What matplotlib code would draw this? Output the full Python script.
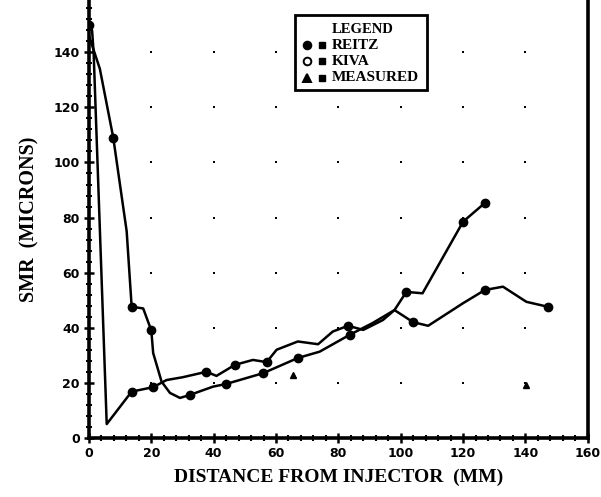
import matplotlib
matplotlib.use("Agg")
import matplotlib.pyplot as plt
from matplotlib.patches import Rectangle
from matplotlib.ticker import MultipleLocator

# REITZ: sharp drop near the injector, then the upper/lower branch out to 147 mm
reitz_x = [0.0, 1.0, 1.5, 5.7, 13.7, 20.6, 24.9, 30.0, 37.7, 40.9, 46.8, 52.6, 57.0,
           60.2, 67.0, 73.5, 78.2, 83.1, 88.0, 94.3, 98.0, 104.0, 108.8, 120.0, 127.0,
           132.8, 140.3, 147.2]
reitz_y = [150.0, 148.0, 140.0, 5.0, 16.8, 18.4, 21.0, 22.0, 24.0, 22.5, 26.5, 28.3, 27.5,
           32.0, 35.0, 34.0, 38.6, 40.7, 39.2, 42.8, 46.4, 42.0, 40.7, 48.9, 53.7,
           54.9, 49.4, 47.6]
reitz_marks = [0, 4, 5, 8, 10, 12, 17, 21, 24, 27]

# KIVA: smoother decay, dip near 30 mm, ends at 127 mm
kiva_x = [0.0, 3.5, 7.8, 12.1, 13.7, 17.4, 20.0, 20.6, 23.3, 26.0, 29.2, 32.4, 39.8,
          44.1, 55.9, 67.0, 74.0, 83.6, 91.0, 98.0, 101.8, 107.0, 120.0, 127.0]
kiva_y = [146.0, 134.0, 109.0, 75.0, 47.6, 47.0, 39.0, 30.8, 20.4, 16.3, 14.5, 15.6, 18.6,
          19.6, 23.5, 29.0, 31.3, 37.4, 41.7, 46.4, 53.0, 52.5, 78.5, 85.3]
kiva_marks = [2, 4, 6, 11, 13, 14, 15, 17, 20, 22, 23]

meas_x = [65.5, 140.3]
meas_y = [22.9, 19.2]

x_ticks = [0, 20, 40, 60, 80, 100, 120, 140, 160]
y_ticks = [0, 20, 40, 60, 80, 100, 120, 140]

legend_labels = ["REITZ", "KIVA", "MEASURED"]
legend_markers = ["o", "o", "^"]

fig = plt.figure(figsize=(6.01, 4.97), dpi=100)
ax = fig.add_axes([0.148, 0.119, 0.830, 0.881])

ax.plot(reitz_x, reitz_y, color="black", lw=1.8, marker="o", ms=6,
        markevery=reitz_marks, zorder=3)
ax.plot(kiva_x, kiva_y, color="black", lw=1.8, marker="o", ms=6,
        markevery=kiva_marks, zorder=3)
ax.plot(meas_x, meas_y, color="black", lw=0, marker="^", ms=5, zorder=3)

# dotted grid: only a dot at each grid crossing
gx = [x for x in x_ticks[1:-1] for y in y_ticks[1:]]
gy = [y for x in x_ticks[1:-1] for y in y_ticks[1:]]
ax.scatter(gx, gy, s=3, marker="s", color="black", lw=0, zorder=1)

ax.set_xlim(0, 160)
ax.set_ylim(0, 159)
ax.set_xticks(x_ticks)
ax.set_yticks(y_ticks)
ax.xaxis.set_minor_locator(MultipleLocator(4))
ax.yaxis.set_minor_locator(MultipleLocator(4))
ax.tick_params(which="major", direction="inout", length=7, width=1.8, labelsize=9, pad=3)
ax.tick_params(which="minor", direction="inout", length=4, width=1.5)
for lab in ax.get_xticklabels() + ax.get_yticklabels():
    lab.set_fontweight("bold")

ax.spines["top"].set_visible(False)
for side in ["left", "bottom", "right"]:
    ax.spines[side].set_linewidth(2.6)

ax.set_xlabel("DISTANCE FROM INJECTOR  (MM)", family="Liberation Serif",
              fontweight="bold", fontsize=14, labelpad=6)
ax.set_ylabel("SMR  (MICRONS)", family="Liberation Serif",
              fontweight="bold", fontsize=14.5, labelpad=10)

# hand drawn legend box like the original
box = Rectangle((0.4125, 0.795), 0.265, 0.171, transform=ax.transAxes,
                facecolor="white", edgecolor="black", lw=2, zorder=4)
ax.add_patch(box)
ax.text(0.549, 0.932, "LEGEND", transform=ax.transAxes, ha="center", va="center",
        family="Liberation Serif", fontweight="bold", fontsize=10.5, zorder=5)
for i, (lab, mk) in enumerate(zip(legend_labels, legend_markers)):
    yy = 0.897 - i * 0.037
    ax.plot([0.437], [yy], transform=ax.transAxes, marker=mk, ms=5.5, color="black",
            mfc="black" if i != 1 else "white", mew=1.4, zorder=5, clip_on=False)
    ax.plot([0.467], [yy], transform=ax.transAxes, marker="s", ms=4, color="black",
            zorder=5, clip_on=False)
    ax.text(0.487, yy, lab, transform=ax.transAxes, ha="left", va="center",
            family="Liberation Serif", fontweight="bold", fontsize=11, zorder=5)

fig.savefig("out.png", dpi=100)
